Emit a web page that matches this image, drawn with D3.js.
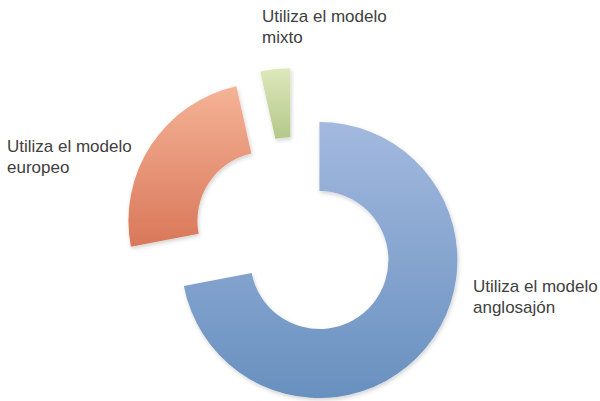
<!DOCTYPE html>
<html>
<head>
<meta charset="utf-8">
<script src="https://cdn.jsdelivr.net/npm/d3@7"></script>
<style>
  body { margin: 0; background: #fff; }
  text { font-family: "Liberation Sans", Arial, sans-serif; font-size: 17px; fill: #404040; }
</style>
</head>
<body>
<script>
const labels = [["Utiliza el modelo", "anglosajón"], ["Utiliza el modelo", "europeo"], ["Utiliza el modelo", "mixto"]];
const values = [72, 24.5, 3.5];
const gradTop    = ["#a3b9df", "#f5b396", "#dfe8bd"];
const gradBottom = ["#6890bf", "#d9775a", "#b3c889"];

const width = 600, height = 401;
const center = {x: 294, y: 239};
const outerR = 138, innerR = 69, explode = 33;

// label anchor spots (x, first baseline)
const labelPos = [[473, 292], [7, 152], [262, 22]];

const svg = d3.select("body").append("svg")
  .attr("width", width)
  .attr("height", height);

const defs = svg.append("defs");

const shadow = defs.append("filter").attr("id", "shadow")
  .attr("x", "-10%").attr("y", "-10%").attr("width", "120%").attr("height", "120%");
shadow.append("feDropShadow")
  .attr("dx", 1).attr("dy", 2).attr("stdDeviation", 2)
  .attr("flood-color", "#000").attr("flood-opacity", 0.18);

values.forEach((v, i) => {
  const g = defs.append("linearGradient").attr("id", "grad" + i)
    .attr("x1", 0).attr("y1", 0).attr("x2", 0).attr("y2", 1);
  g.append("stop").attr("offset", "0%").attr("stop-color", gradTop[i]);
  g.append("stop").attr("offset", "100%").attr("stop-color", gradBottom[i]);
});

const pie = d3.pie().sort(null).value(d => d);
const arc = d3.arc().innerRadius(innerR).outerRadius(outerR);

const slices = pie(values);

svg.append("g")
  .attr("transform", `translate(${center.x},${center.y})`)
  .selectAll("path")
  .data(slices)
  .join("path")
  .attr("transform", d => {
    const mid = (d.startAngle + d.endAngle) / 2;
    return `translate(${explode * Math.sin(mid)},${-explode * Math.cos(mid)})`;
  })
  .attr("d", arc)
  .attr("fill", (d, i) => `url(#grad${i})`)
  .attr("filter", "url(#shadow)");

const lab = svg.append("g").selectAll("text")
  .data(labels)
  .join("text")
  .attr("x", (d, i) => labelPos[i][0])
  .attr("y", (d, i) => labelPos[i][1]);

lab.selectAll("tspan")
  .data(d => d)
  .join("tspan")
  .attr("x", function () { return d3.select(this.parentNode).attr("x"); })
  .attr("dy", (d, j) => j === 0 ? 0 : 21)
  .text(d => d);
</script>
</body>
</html>
